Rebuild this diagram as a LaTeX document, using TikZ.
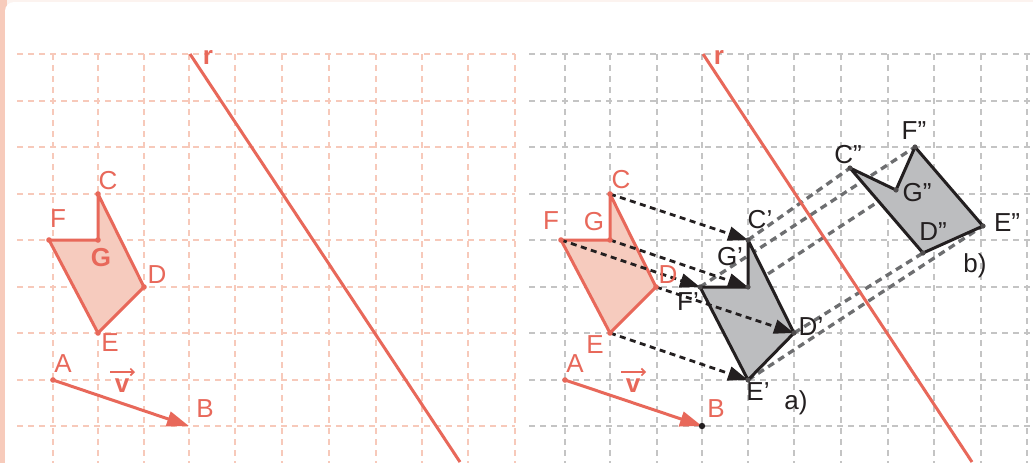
\documentclass[tikz,border=0pt]{standalone}
\usepackage{fontspec}
\setmainfont{Liberation Sans}
\usetikzlibrary{arrows.meta}
\definecolor{sal}{HTML}{E8685A}
\definecolor{salfill}{HTML}{F6CBBE}
\definecolor{pinkgrid}{HTML}{F7C9BA}
\definecolor{greygrid}{HTML}{C4C4C4}
\definecolor{ink}{HTML}{231F20}
\definecolor{imgfill}{HTML}{BCBDBF}
\definecolor{linkgrey}{HTML}{6D6E70}
\definecolor{strip}{HTML}{F7CBBB}
\definecolor{topband}{HTML}{FCF3EF}
\tikzset{
  pgrid/.style={draw=pinkgrid, line width=1.4pt, dash pattern=on 6pt off 5pt},
  ggrid/.style={draw=greygrid, line width=1.4pt, dash pattern=on 6pt off 5pt},
  rline/.style={draw=sal, line width=3pt},
  origpoly/.style={draw=sal, fill=salfill, line width=3pt, line join=round},
  imgpoly/.style={draw=ink, fill=imgfill, line width=3pt, line join=round},
  transarrow/.style={draw=ink, line width=2.8pt, dash pattern=on 6pt off 4.5pt, -{Triangle[length=20pt,width=14pt]}},
  linkline/.style={draw=linkgrey, line width=3.3pt, dash pattern=on 7pt off 5pt},
  vecarrow/.style={draw=sal, line width=3pt, -{Triangle[length=22pt,width=15pt]}},
  lab/.style={inner sep=0pt, font=\fontsize{26}{30}\selectfont},
  blab/.style={inner sep=0pt, font=\fontsize{26}{30}\selectfont\bfseries},
  slab/.style={lab, text=sal},
  sblab/.style={blab, text=sal},
  klab/.style={lab, text=ink},
  sdot/.style={fill=sal},
  kdot/.style={fill=ink!80},
  vbar/.style={draw=sal, line width=1.6pt, -{Straight Barb[length=3.5pt,width=7pt]}},
}
\begin{document}
\begin{tikzpicture}[x=1pt,y=-1pt]
\useasboundingbox (0,0) rectangle (1033,463);
% background card
\fill[topband] (0,0) rectangle (1033,463);
\fill[strip] (0,0) rectangle (7,463);
\fill[white, rounded corners=9pt] (5,2) rectangle (1045,475);

% grids
\foreach \x in {53,98,144,189,235,282,329,376,422,468,515}
  \draw[pgrid] (\x,54) -- (\x,463);
\foreach \y in {54,101,147,194,240,287,333,380,426}
  \draw[pgrid] (17,\y) -- (515,\y);
\foreach \x in {565,610,657,702,748,794,841,888,934,981,1027}
  \draw[ggrid] (\x,54) -- (\x,463);
\foreach \y in {54,101,147,194,240,287,333,380,426}
  \draw[ggrid] (529,\y) -- (1033,\y);

% ---------- left panel ----------
\coordinate (lC) at (98,194);
\coordinate (lG) at (98,240);
\coordinate (lF) at (49,240);
\coordinate (lD) at (144,287);
\coordinate (lE) at (98,333);
\coordinate (lA) at (53,380);
\coordinate (lB) at (189,426);
\coordinate (lr1) at (190,54);
\coordinate (lr2) at (460,462);

\draw[rline] (lr1) -- (lr2);
\draw[origpoly] (lC) -- (lD) -- (lE) -- (lF) -- (lG) -- cycle;
\foreach \p in {lC,lG,lF,lD,lE,lA} \fill[sdot] (\p) circle (2.8pt);
\draw[vecarrow] (lA) -- (lB);

\node[sblab] (lrlab) at (208,57) {r};
\node[slab] (lClab) at (108,181) {C};
\node[slab] (lFlab) at (58,219) {F};
\node[sblab] (lGlab) at (101,258) {G};
\node[slab] (lDlab) at (157,275) {D};
\node[slab] (lElab) at (110,343) {E};
\node[slab] (lAlab) at (63,364) {A};
\node[slab] (lBlab) at (205,409) {B};
\node[sblab] (lvlab) at (122,386) {v};
\coordinate (lv1) at (110,372);
\coordinate (lv2) at (135,372);
\draw[vbar] (lv1) -- (lv2);

% ---------- right panel ----------
\coordinate (C) at (610,194);
\coordinate (G) at (610,240);
\coordinate (F) at (561,240);
\coordinate (D) at (656,287);
\coordinate (E) at (610,333);
\coordinate (A) at (565,380);
\coordinate (B) at (702,426);
\coordinate (C1) at (748,240);
\coordinate (G1) at (748,287);
\coordinate (F1) at (700,287);
\coordinate (D1) at (794,333);
\coordinate (E1) at (748,380);
\coordinate (C2) at (850,168);
\coordinate (G2) at (896,190);
\coordinate (F2) at (915,147);
\coordinate (E2) at (983,226);
\coordinate (D2) at (923,253);
\coordinate (rr1) at (703,54);
\coordinate (rr2) at (972,462);

\draw[linkline] (C1) -- (C2);
\draw[linkline] (G1) -- (G2);
\draw[linkline] (F1) -- (F2);
\draw[linkline] (D1) -- (D2);
\draw[linkline] (E1) -- (E2);

\draw[rline] (rr1) -- (rr2);

\draw[origpoly] (C) -- (D) -- (E) -- (F) -- (G) -- cycle;
\draw[imgpoly] (C1) -- (D1) -- (E1) -- (F1) -- (G1) -- cycle;
\draw[imgpoly] (C2) -- (G2) -- (F2) -- (E2) -- (D2) -- cycle;

\draw[transarrow] (C) -- (C1);
\draw[transarrow] (G) -- (G1);
\draw[transarrow] (F) -- (F1);
\draw[transarrow] (D) -- (D1);
\draw[transarrow] (E) -- (E1);

\draw[vecarrow] (A) -- (B);

\foreach \p in {C,G,F,D,E,A} \fill[sdot] (\p) circle (2.8pt);
\foreach \p in {C1,G1,F1,D1,E1,C2,G2,F2,E2,D2} \fill[kdot] (\p) circle (2.6pt);
\fill[ink] (B) circle (3.2pt);

\node[sblab] (rrlab) at (719,57) {r};
\node[slab] (Clab) at (621,180) {C};
\node[slab] (Flab) at (551,221) {F};
\node[slab] (Glab) at (594,222) {G};
\node[slab] (Dlab) at (668,275) {D};
\node[slab] (Elab) at (595,345) {E};
\node[slab] (Alab) at (575,364) {A};
\node[slab] (Blab) at (716,409) {B};
\node[sblab] (vlab) at (633,386) {v};
\coordinate (v1) at (621,372);
\coordinate (v2) at (646,372);
\draw[vbar] (v1) -- (v2);

\node[klab] (C1lab) at (760,220) {C’};
\node[klab] (G1lab) at (730,257) {G’};
\node[klab] (F1lab) at (688,302) {F’};
\node[klab] (D1lab) at (811,327) {D’};
\node[klab] (E1lab) at (758,392) {E’};
\node[klab] (alab) at (796,403) {a)};
\node[klab] (C2lab) at (848,155) {C”};
\node[klab] (F2lab) at (914,131) {F”};
\node[klab] (G2lab) at (917,193) {G”};
\node[klab] (D2lab) at (933,232) {D”};
\node[klab] (E2lab) at (1007,223) {E”};
\node[klab] (blab) at (975,266) {b)};
\end{tikzpicture}
\end{document}
